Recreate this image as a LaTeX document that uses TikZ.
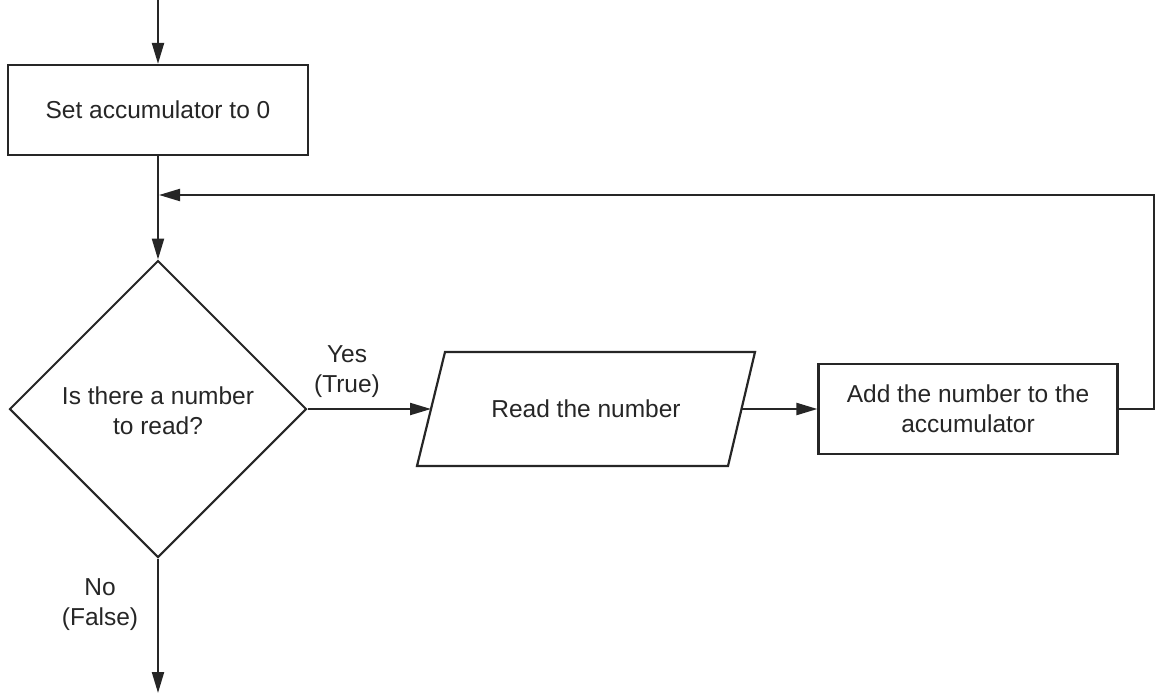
\documentclass[tikz,border=0pt]{standalone}
\usepackage{fontspec}
\setmainfont{Liberation Sans}
\usetikzlibrary{arrows.meta,shapes.geometric}
\definecolor{ink}{HTML}{262626}
\begin{document}
\begin{tikzpicture}[x=1pt,y=-1pt,
  line width=2.2pt, draw=ink, text=ink,
  every node/.style={font=\fontsize{24.5}{30}\selectfont, align=center, inner sep=0pt},
  procbox/.style={draw, rectangle, line width=2.2pt},
  decbox/.style={draw, diamond, aspect=1, line width=2pt, minimum width=297pt, minimum height=297pt},
  flow/.style={draw=ink, line width=2.2pt, -{Triangle[length=21pt,width=12pt]}},
  plain/.style={draw=ink, line width=2.2pt}
]
\useasboundingbox (0,0) rectangle (1156,693);
\coordinate (top) at (158,0);
\node[procbox, minimum width=300pt, minimum height=90pt] (init) at (158,110) {Set accumulator to 0};
\node[decbox] (dec) at (158,409) {};
\node (dectext) at (158,411) {Is there a number\\to read?};
% parallelogram
\coordinate (p1) at (417,466);
\coordinate (p2) at (445,352);
\coordinate (p3) at (755,352);
\coordinate (p4) at (728,466);
\draw[line width=2.2pt] (p1) -- (p2) -- (p3) -- (p4) -- cycle;
\node (read) at (586,409) {Read the number};
\coordinate (pl) at (431,409);
\coordinate (pr) at (741,409);
\node[procbox, minimum width=299pt, minimum height=90pt] (add) at (968,409) {Add the number to the\\accumulator};
\coordinate (rc) at (1154,409);
\coordinate (rt) at (1154,195);
\coordinate (join) at (159,195);
\coordinate (bottom) at (158,693);
\node (yes) at (347,372) {Yes\\(True)};
\node (no) at (100,605) {No\\(False)};
% connectors
\draw[flow] (top) -- (init.north);
\draw[flow] (init.south) -- (dec.north);
\draw[flow] (dec.east) -- (pl);
\draw[flow] (pr) -- (add.west);
\draw[flow] (add.east) -- (rc) -- (rt) -- (join);
\draw[flow] (dec.south) -- (bottom);
\end{tikzpicture}
\end{document}
